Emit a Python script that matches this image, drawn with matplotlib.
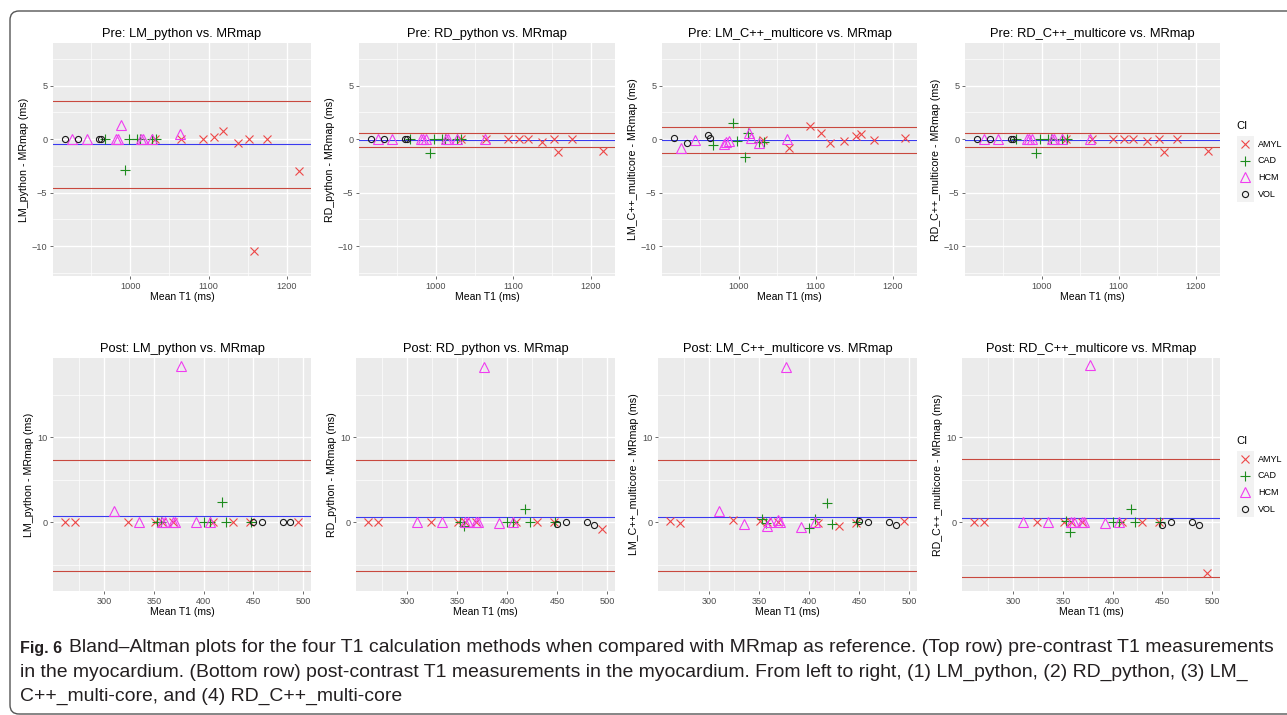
import matplotlib
matplotlib.use("Agg")
import matplotlib.pyplot as plt
from matplotlib import font_manager
from matplotlib.patches import FancyBboxPatch, Rectangle
from matplotlib.transforms import IdentityTransform

W, H = 1287, 715

# ---- data ---------------------------------------------------------------
groups = ['AMYL', 'CAD', 'HCM', 'VOL']
colors = {'AMYL': '#EE4747', 'CAD': '#1E8C1E', 'HCM': '#F03CF0', 'VOL': '#1A1A1A'}
markers = {'AMYL': 'x', 'CAD': '+', 'HCM': '^', 'VOL': 'o'}
msizes = {'AMYL': 5.8, 'CAD': 7.0, 'HCM': 6.6, 'VOL': 4.4}

methods = ['LM_python', 'RD_python', 'LM_C++_multicore', 'RD_C++_multicore']

# pre-contrast: mean T1 (ms) per group
pre_x = {
    'AMYL': [1032, 1065, 1093, 1107, 1119, 1137, 1152, 1158, 1175, 1216],
    'CAD': [967, 993, 998, 1008, 1012, 1027, 1033],
    'HCM': [925, 944, 981, 984, 988, 1013, 1016, 1027, 1063],
    'VOL': [916, 933, 960, 963],
}
pre_diff = {
    'LM_python': {
        'AMYL': [0, 0, 0, 0.25, 0.75, -0.4, 0, -10.5, 0, -3.0],
        'CAD': [0, -2.9, 0, 0, 0, 0, 0],
        'HCM': [0, 0, 0, 0, 1.3, 0, 0, 0, 0.5],
        'VOL': [0, 0, 0, 0],
    },
    'RD_python': {
        'AMYL': [0, 0, 0, 0, 0, -0.25, 0, -1.2, 0, -1.1],
        'CAD': [0, -1.25, 0, 0, 0, 0, 0],
        'HCM': [0, 0, 0, 0, 0, 0, 0, 0, 0],
        'VOL': [0, 0, 0, 0],
    },
    'LM_C++_multicore': {
        'AMYL': [-0.05, -0.8, 1.2, 0.55, -0.4, -0.15, 0.3, 0.45, -0.1, 0.15],
        'CAD': [-0.55, 1.5, -0.15, -1.7, 0.55, -0.3, -0.3],
        'HCM': [-0.85, -0.1, -0.45, -0.3, -0.2, 0.55, 0.1, -0.4, 0.05],
        'VOL': [0.15, -0.4, 0.4, 0.15],
    },
    'RD_C++_multicore': {
        'AMYL': [0, 0, 0, 0, 0, -0.2, 0, -1.2, 0, -1.1],
        'CAD': [0, -1.25, 0, 0, 0, 0, 0],
        'HCM': [0, 0, 0, 0, 0, 0, 0, 0, 0],
        'VOL': [0, 0, 0, 0],
    },
}
# (upper LoA, mean bias, lower LoA)
pre_lines = {
    'LM_python': (3.6, -0.47, -4.6),
    'RD_python': (0.55, -0.1, -0.75),
    'LM_C++_multicore': (1.1, -0.05, -1.3),
    'RD_C++_multicore': (0.55, -0.1, -0.75),
}

# post-contrast
post_x = {
    'AMYL': [261, 271, 324, 351, 358, 369, 409, 430, 447, 495],
    'CAD': [353, 357, 400, 406, 418, 423, 448],
    'HCM': [310, 335, 358, 361, 369, 371, 377, 392, 406],
    'VOL': [450, 459, 480, 487],
}
post_diff = {
    'LM_python': {
        'AMYL': [0, 0, 0, 0, 0, 0, 0, 0, 0, 0],
        'CAD': [0, 0, 0, 0, 2.35, 0, 0],
        'HCM': [1.35, 0, 0, 0, 0, 0, 18.4, 0, 0],
        'VOL': [0, 0, 0, 0],
    },
    'RD_python': {
        'AMYL': [0, 0, 0, 0, 0, 0, 0, 0, 0, -0.8],
        'CAD': [0, -0.4, 0, 0, 1.55, 0, 0],
        'HCM': [0, 0, 0, 0, 0, 0, 18.3, -0.1, 0],
        'VOL': [-0.25, 0, 0, -0.35],
    },
    'LM_C++_multicore': {
        'AMYL': [0.1, -0.1, 0.2, 0.1, 0, 0, -0.1, -0.4, -0.1, 0.1],
        'CAD': [0.4, -0.05, -0.7, 0.35, 2.3, -0.25, 0],
        'HCM': [1.3, -0.2, -0.5, 0, 0.3, 0, 18.3, -0.55, 0],
        'VOL': [0.1, 0, 0, -0.35],
    },
    'RD_C++_multicore': {
        'AMYL': [0, 0, 0, 0, 0, 0, 0, 0, 0, -6.0],
        'CAD': [0.1, -1.2, 0, 0, 1.6, 0, 0],
        'HCM': [0, 0, 0, 0, 0, 0, 18.5, -0.1, 0],
        'VOL': [-0.3, 0, 0, -0.35],
    },
}
post_lines = {
    'LM_python': (7.33, 0.74, -5.73),
    'RD_python': (7.25, 0.62, -5.8),
    'LM_C++_multicore': (7.3, 0.66, -5.8),
    'RD_C++_multicore': (7.4, 0.47, -6.47),
}

caption_lines = [
    "Bland\u2013Altman plots for the four T1 calculation methods when compared with MRmap as reference. (Top row) pre-contrast T1 measurements",
    "in the myocardium. (Bottom row) post-contrast T1 measurements in the myocardium. From left to right, (1) LM_python, (2) RD_python, (3) LM_",
    "C++_multi-core, and (4) RD_C++_multi-core",
]

# ---- layout -------------------------------------------------------------
plt.rcParams['font.family'] = ['Liberation Sans', 'DejaVu Sans']

fig = plt.figure(figsize=(W / 100, H / 100), dpi=100)


def rect(l, t, r, b):
    return [l / W, 1 - b / H, (r - l) / W, (b - t) / H]


top_boxes = [(53, 43, 311, 276), (359, 43, 615, 276), (662, 43, 917, 276), (965, 43, 1220, 276)]
bot_boxes = [(53, 358, 311, 591), (356, 358, 615, 591), (658, 358, 917, 591), (962, 358, 1220, 591)]


def style(ax):
    ax.set_facecolor('#EBEBEB')
    for s in ax.spines.values():
        s.set_visible(False)
    ax.grid(True, which='major', color='white', linewidth=1.0)
    ax.grid(True, which='minor', color='white', linewidth=0.5)
    ax.set_axisbelow(True)
    ax.tick_params(which='major', length=2.5, width=0.5, color='#333333',
                   labelsize=6.6, labelcolor='#4D4D4D', pad=1.5)
    ax.tick_params(which='minor', length=0)


def panel(ax, xs, diffs, lines, title, ylab, xlim, ylim, xmaj, xmin, ymaj, ymin):
    style(ax)
    up, mid, lo = lines
    ax.axhline(up, color='#C8483E', linewidth=0.8, zorder=2)
    ax.axhline(lo, color='#C8483E', linewidth=0.8, zorder=2)
    ax.axhline(mid, color='#3A3AF0', linewidth=0.8, zorder=2)
    for g in groups:
        face = 'none' if markers[g] in ('^', 'o') else colors[g]
        ax.plot(xs[g], diffs[g], linestyle='none', marker=markers[g],
                markersize=msizes[g], markeredgecolor=colors[g],
                markerfacecolor=face, markeredgewidth=0.8, zorder=3)
    ax.set_xlim(*xlim)
    ax.set_ylim(*ylim)
    ax.set_xticks(xmaj)
    ax.set_xticks(xmin, minor=True)
    ax.set_yticks(ymaj)
    ax.set_yticks(ymin, minor=True)
    ax.set_title(title, fontsize=9.3, pad=4)
    ax.set_xlabel('Mean T1 (ms)', fontsize=7.5, labelpad=1)
    ax.set_ylabel(ylab, fontsize=7.7, labelpad=2)


for i, m in enumerate(methods):
    ax = fig.add_axes(rect(*top_boxes[i]))
    panel(ax, pre_x, pre_diff[m], pre_lines[m], f"Pre: {m} vs. MRmap",
          f"{m} - MRmap (ms)", (901, 1231), (-12.8, 9.0),
          [1000, 1100, 1200], [950, 1050, 1150],
          [-10, -5, 0, 5], [-12.5, -7.5, -2.5, 2.5, 7.5])
    ax = fig.add_axes(rect(*bot_boxes[i]))
    panel(ax, post_x, post_diff[m], post_lines[m], f"Post: {m} vs. MRmap",
          f"{m} - MRmap (ms)", (248.5, 508), (-8.1, 19.3),
          [300, 350, 400, 450, 500], [275, 325, 375, 425, 475],
          [0, 10], [-5, 5, 15])


# ---- legends ------------------------------------------------------------
def legend(top_px):
    lax = fig.add_axes(rect(1228, top_px, 1287, top_px + 95))
    lax.set_xlim(1228, 1287)
    lax.set_ylim(top_px + 95, top_px)
    lax.axis('off')
    lax.text(1236, top_px + 11, 'CI', fontsize=8, va='center', ha='left')
    for k, g in enumerate(groups):
        cy = top_px + 29 + k * 16.7
        lax.add_patch(Rectangle((1237, cy - 8.3), 16.6, 16.6, facecolor='#F2F2F2',
                                edgecolor='none'))
        face = 'none' if markers[g] in ('^', 'o') else colors[g]
        lax.plot([1245.3], [cy], linestyle='none', marker=markers[g],
                 markersize=msizes[g], markeredgecolor=colors[g],
                 markerfacecolor=face, markeredgewidth=0.8)
        lax.text(1258, cy, g, fontsize=6.5, va='center', ha='left')


legend(115)
legend(430)

# ---- border and caption -------------------------------------------------
border = FancyBboxPatch((10, H - 714), 1400, 703, boxstyle='round,pad=0,rounding_size=9',
                        transform=IdentityTransform(), facecolor='none',
                        edgecolor='#555555', linewidth=1.0)
fig.patches.append(border)

names = {f.name for f in font_manager.fontManager.ttflist}
cap_font = 'Liberation Sans Narrow' if 'Liberation Sans Narrow' in names else 'Liberation Sans'

renderer = fig.canvas.get_renderer()
fig_t = fig.text(20 / W, 1 - 648 / H, 'Fig. 6', fontsize=11.5, fontweight='bold',
                 family=cap_font, va='center', ha='left', color='#231F20')
fw = fig_t.get_window_extent(renderer).width
x0 = 20 + fw + 7
probe = fig.text(x0 / W, 1 - 648 / H, caption_lines[0], fontsize=10, family=cap_font,
                 va='center', ha='left', color='#231F20')
pw = probe.get_window_extent(renderer).width
cap_size = 10 * (1275 - x0) / pw
probe.set_fontsize(cap_size)
for j, line in enumerate(caption_lines[1:]):
    fig.text(20 / W, 1 - (672 + 24 * j) / H, line, fontsize=cap_size, family=cap_font,
             va='center', ha='left', color='#231F20')

fig.savefig('out.png', dpi=100)
